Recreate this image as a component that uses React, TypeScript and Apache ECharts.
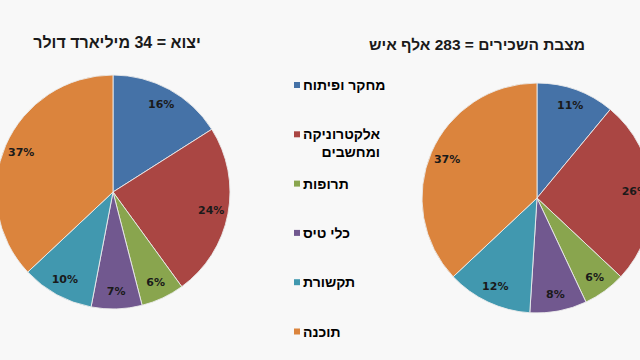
import React, { useEffect, useRef } from "react";
import * as echarts from "echarts";

const categories = ["מחקר ופיתוח", "אלקטרוניקה ומחשבים", "תרופות", "כלי טיס", "תקשורת", "תוכנה"];
const exportShare = [16, 24, 6, 7, 10, 37];
const employeeShare = [11, 26, 6, 8, 12, 37];
const exportTitle = "יצוא = 34 מיליארד דולר";
const employeeTitle = "מצבת השכירים = 283 אלף איש";
const colors = ["#4572A7", "#AA4643", "#89A54E", "#71588F", "#4198AF", "#DB843D"];

const HEB_FONT = "'Liberation Sans', 'DejaVu Sans', sans-serif";
const NUM_FONT = "'DejaVu Sans', sans-serif";

function pieSeries(values: number[], center: number[], r: number, labelR: number) {
  const data = categories.map((name, i) => ({ name, value: values[i] }));
  return [
    {
      type: "pie",
      center,
      radius: [0, r],
      startAngle: 90,
      clockwise: true,
      silent: true,
      avoidLabelOverlap: false,
      label: { show: false },
      labelLine: { show: false },
      itemStyle: { borderColor: "rgba(235,235,235,0.9)", borderWidth: 1 },
      data: data.map((d, i) => ({ ...d, itemStyle: { color: colors[i] } })),
    },
    {
      type: "pie",
      center,
      radius: [0, labelR],
      startAngle: 90,
      clockwise: true,
      silent: true,
      avoidLabelOverlap: false,
      itemStyle: { color: "rgba(0,0,0,0)", borderWidth: 0 },
      label: {
        show: true,
        position: "inside",
        formatter: (p: any) => p.value + "%",
        color: "#1a1a1a",
        fontFamily: NUM_FONT,
        fontWeight: "bold",
        fontSize: 11,
      },
      labelLine: { show: false },
      data,
    },
  ];
}

function legendGraphics() {
  const els: any[] = [];
  categories.forEach((name, i) => {
    const yc = 85 + i * 49.3;
    const words = name.split(" ");
    const lines = name.length > 14 ? [words.slice(0, -1).join(" "), words[words.length - 1]] : [name];
    els.push({
      type: "rect",
      shape: { x: 294, y: yc - 3, width: 6, height: 6 },
      style: { fill: colors[i] },
      silent: true,
    });
    const base = { fontFamily: HEB_FONT, fontSize: 14, fontWeight: "bold", lineHeight: 18, color: "#1a1a1a" };
    els.push({
      type: "text",
      x: 303,
      y: yc - 9,
      silent: true,
      style: {
        text: lines.map((l, k) => `{${k === 0 ? "a" : "b"}|${l}}`).join("\n"),
        verticalAlign: "top",
        align: "left",
        rich: {
          a: { ...base },
          b: { ...base, align: "right" },
        },
      },
    });
  });
  return els;
}

export default function App() {
  const ref = useRef<HTMLDivElement>(null);
  useEffect(() => {
    document.body.style.margin = "0";
    document.body.style.background = "#f8f8f8";
    const chart = echarts.init(ref.current!, undefined, { renderer: "svg" });
    chart.setOption({
      animation: false,
      backgroundColor: "#f8f8f8",
      title: [
        {
          text: exportTitle,
          left: 112,
          top: 29,
          textAlign: "center",
          textStyle: { fontFamily: HEB_FONT, fontSize: 16, fontWeight: "bold", color: "#1a1a1a" },
        },
        {
          text: employeeTitle,
          left: 472,
          top: 31,
          textAlign: "center",
          textStyle: { fontFamily: HEB_FONT, fontSize: 15.5, fontWeight: "bold", color: "#1a1a1a" },
        },
      ],
      graphic: legendGraphics(),
      series: [
        ...pieSeries(exportShare, [113, 192], 117, 194),
        ...pieSeries(employeeShare, [537, 198], 115, 190),
      ],
    });
    return () => chart.dispose();
  }, []);
  return <div ref={ref} style={{ width: 640, height: 360 }} />;
}
